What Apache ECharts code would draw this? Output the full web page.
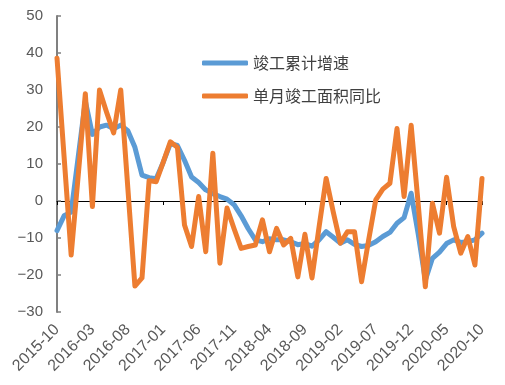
<!DOCTYPE html>
<html>
<head>
<meta charset="utf-8">
<script src="https://cdn.jsdelivr.net/npm/echarts@6/dist/echarts.min.js"></script>
<style>
html,body{margin:0;padding:0;background:#fff;}
#chart{width:505px;height:385px;}
</style>
</head>
<body>
<div id="chart"></div>
<script>
var months = [
 '2015-10','2015-11','2015-12','2016-01','2016-02','2016-03','2016-04','2016-05','2016-06','2016-07',
 '2016-08','2016-09','2016-10','2016-11','2016-12','2017-01','2017-02','2017-03','2017-04','2017-05',
 '2017-06','2017-07','2017-08','2017-09','2017-10','2017-11','2017-12','2018-01','2018-02','2018-03',
 '2018-04','2018-05','2018-06','2018-07','2018-08','2018-09','2018-10','2018-11','2018-12','2019-01',
 '2019-02','2019-03','2019-04','2019-05','2019-06','2019-07','2019-08','2019-09','2019-10','2019-11',
 '2019-12','2020-01','2020-02','2020-03','2020-04','2020-05','2020-06','2020-07','2020-08','2020-09',
 '2020-10'
];
var cumulativeGrowth = [
 -8, -4, -3, 12, 27, 18, 20, 20.5, 19.5, 20.5,
 19, 14.5, 7, 6.3, 6, 10.5, 15.5, 15, 11, 6.5,
 5, 3, 2, 1.2, 0.5, -1, -4, -7.5, -10.5, -11,
 -10.2, -10.5, -10.5, -11, -11.8, -11.5, -12.2, -10.5, -8.3, -9.8,
 -11.4, -10.5, -11.7, -12.3, -12, -11, -9.6, -8.5, -6, -4.5,
 2.1, -9, -21.4, -15.5, -13.8, -11.5, -10.5, -11.2, -11, -10.5,
 -8.7
];
var monthlyYoY = [
 38.6, 12, -14.6, 7, 29, -1.5, 30, 24, 18.4, 30,
 3.5, -23, -20.8, 5.5, 5.2, 10.5, 16, 14.5, -6.5, -12.3,
 1.2, -13.7, 12.9, -16.8, -1.9, -7.5, -12.8, -12.3, -11.9, -5.1,
 -13.7, -7.4, -11.9, -10.1, -20.5, -9, -20.8, -7, 6.1, -3,
 -11.4, -8.3, -8.3, -21.8, -10.5, 0.3, 3.2, 4.8, 19.6, 1.2,
 20.5, -1, -23.2, -0.6, -8.7, 6.4, -6.9, -14.1, -9.6, -17.3,
 6.1
];
var seriesNames = ['竣工累计增速', '单月竣工面积同比'];
var yTicks = {min: -30, max: 50, interval: 10};

var chart = echarts.init(document.getElementById('chart'), null, {renderer: 'canvas'});
var labelColor = '#595959';
chart.setOption({
  animation: false,
  backgroundColor: '#ffffff',
  grid: {left: 57, right: 23, top: 16, bottom: 73},
  legend: {
    orient: 'vertical',
    left: 197,
    top: 50,
    itemWidth: 46,
    itemHeight: 5,
    itemGap: 17,
    icon: 'roundRect',
    data: seriesNames,
    textStyle: {fontFamily: 'Noto Sans CJK SC', fontSize: 16, color: '#404040'}
  },
  xAxis: [{
    type: 'category',
    data: months,
    boundaryGap: false,
    position: 'bottom',
    axisLine: {onZero: true, lineStyle: {color: '#000000', width: 1}},
    axisTick: {show: true, interval: 4, length: 4, inside: false, lineStyle: {color: '#000000'}},
    axisLabel: {show: false},
    splitLine: {show: false}
  }, {
    type: 'category',
    data: months,
    boundaryGap: false,
    position: 'bottom',
    axisLine: {show: false, onZero: false},
    axisTick: {show: false},
    axisLabel: {
      show: true, interval: 4, rotate: 45, margin: 15,
      fontFamily: 'Liberation Sans', fontSize: 16, color: labelColor
    },
    splitLine: {show: false}
  }],
  yAxis: {
    type: 'value',
    min: yTicks.min,
    max: yTicks.max,
    interval: yTicks.interval,
    axisLine: {show: true, lineStyle: {color: '#808080', width: 2}},
    axisTick: {show: true, inside: true, length: 4, lineStyle: {color: '#808080', width: 1.5}},
    axisLabel: {
      margin: 14, fontFamily: 'Liberation Sans', fontSize: 15, color: labelColor,
      formatter: function (v) { return v < 0 ? '\u2212' + Math.abs(v) : String(v); }
    },
    splitLine: {show: false}
  },
  series: [{
    name: seriesNames[0],
    type: 'line',
    xAxisIndex: 0,
    data: cumulativeGrowth,
    symbol: 'none',
    itemStyle: {color: '#5B9BD5'},
    lineStyle: {color: '#5B9BD5', width: 5, join: 'round', cap: 'round'}
  }, {
    name: seriesNames[1],
    type: 'line',
    xAxisIndex: 0,
    data: monthlyYoY,
    symbol: 'none',
    itemStyle: {color: '#ED7D31'},
    lineStyle: {color: '#ED7D31', width: 5, join: 'round', cap: 'round'}
  }]
});
</script>
</body>
</html>
